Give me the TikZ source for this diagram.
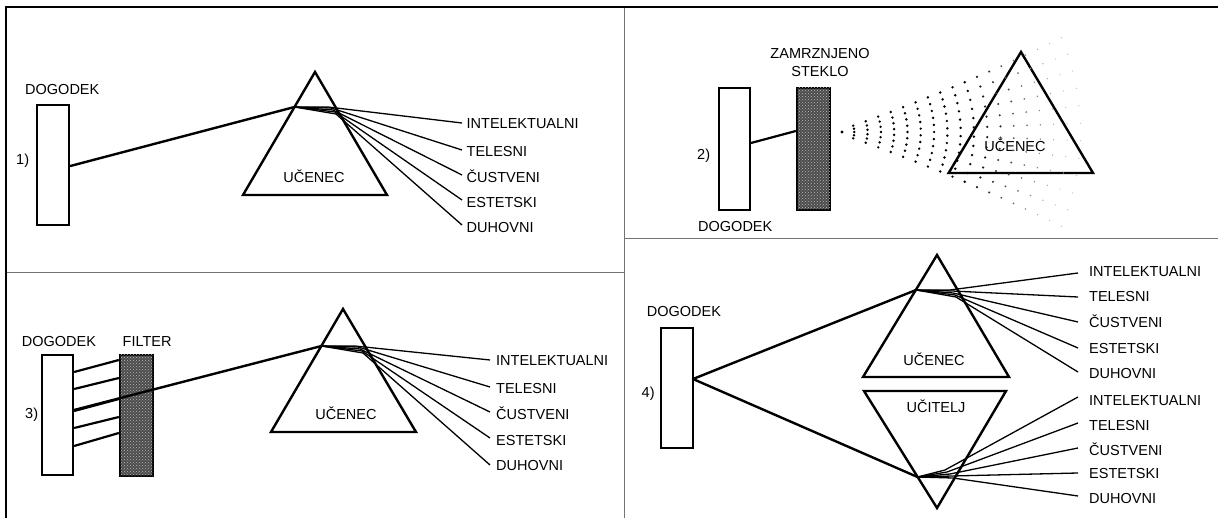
\documentclass[tikz,border=0pt]{standalone}
\usepackage{fontspec}
\setmainfont{Liberation Sans}
\usetikzlibrary{calc,patterns}
\tikzset{
  txt/.style={font=\fontsize{14.5}{17}\selectfont, inner sep=0pt},
  lbl/.style={txt, anchor=base west},
  ctr/.style={txt, anchor=base},
  prism/.style={draw, line width=2.4pt, line join=miter},
  beam/.style={line width=2.4pt, line cap=round},
  ray/.style={line width=1.3pt, line join=round},
  link/.style={line width=2.2pt},
  evbox/.style={draw, line width=2.3pt, fill=white, inner sep=0pt},
  glassbox/.style={draw, line width=2.3pt, fill=black!70, inner sep=0pt,
    postaction={pattern=crosshatch dots, pattern color=black!28}},
  frame/.style={line width=2.5pt},
  divider/.style={draw=black!55, line width=1pt}
}
\begin{document}
\begin{tikzpicture}[x=1pt,y=-1pt]
\useasboundingbox (0,0) rectangle (1218,518);

% ---------- frame and panel dividers ----------
\draw[divider] (624.5,7) -- (624.5,518);
\draw[divider] (6,273) -- (624.5,273);
\draw[divider] (624.5,239) -- (1218,239);
\draw[frame] (6,518) -- (6,7) -- (1218,7);

% ---------- panel 1 ----------
\node[lbl] (a-ev-t) at (25,95) {DOGODEK};
\node[lbl] (a-num) at (16,165) {1)};
\node[evbox, minimum width=32pt, minimum height=120pt] (a-ev) at (53.2,165) {};
\coordinate (a-top) at (315,72);
\coordinate (a-bl) at (243,195);
\coordinate (a-br) at (387,195);
\coordinate (a-in) at (294.5,107);
\draw[prism] (a-top) -- (a-bl) -- (a-br) -- cycle;
\node[ctr] (a-st) at (314,183) {UČENEC};
\draw[beam] ($(a-ev.east)+(0,1)$) -- (a-in);
\foreach \ey/\bx/\by [count=\i] in {123/328/107, 150/331/108, 175/333/110, 200/335/112, 225/336/114}{
  \coordinate (a-b\i) at (\bx,\by);
  \coordinate (a-e\i) at (462,\ey);
  \draw[ray] (a-in) -- (a-b\i) -- (a-e\i);
}
\foreach \t/\yy [count=\i] in {INTELEKTUALNI/129, TELESNI/157, ČUSTVENI/183, ESTETSKI/208, DUHOVNI/233}
  \node[lbl] (a-l\i) at (466.5,\yy) {\t};

% ---------- panel 2 ----------
\node[ctr] (b-gl-t1) at (820,59) {ZAMRZNJENO};
\node[ctr] (b-gl-t2) at (820,77) {STEKLO};
\node[lbl] (b-num) at (697,160) {2)};
\node[lbl] (b-ev-t) at (698,232) {DOGODEK};
\node[evbox, minimum width=31pt, minimum height=122pt] (b-ev) at (734.3,149) {};
\node[glassbox, minimum width=33pt, minimum height=122pt] (b-gl) at (813.5,149) {};
\draw[link] ($(b-ev.east)+(0,-6)$) -- ($(b-gl.west)+(0,-18)$);
\coordinate (b-top) at (1021,52);
\coordinate (b-bl) at (948.6,173);
\coordinate (b-br) at (1093,173);
\draw[prism] (b-top) -- (b-bl) -- (b-br) -- cycle;
\node[ctr] (b-st) at (1015,152) {UČENEC};
% light scattered by the frosted glass: widening arcs of dots that fade out
\coordinate (b-src) at (835,132);
\fill (b-src) ++(7,0) circle[radius=1.6pt];
\foreach \k in {1,...,18}{
  \pgfmathsetmacro\rr{6+13.3*\k}
  \pgfmathsetmacro\th{19+0.2*\k}
  \pgfmathtruncatemacro\nn{min(3+\k,11)}
  \pgfmathsetmacro\dr{\k<11 ? 1.35 : max(1.35-0.1*(\k-10),0.65)}
  \pgfmathtruncatemacro\sh{\k<11 ? 100 : max(100-11*(\k-10),28)}
  \foreach \i in {0,...,\nn}{
    \pgfmathsetmacro\ang{-\th+2*\th*\i/\nn}
    \fill[black!\sh] (b-src) ++(\ang:\rr) circle[radius=\dr pt];
  }
}

% ---------- panel 3 ----------
\node[lbl] (c-ev-t) at (21.7,347) {DOGODEK};
\node[lbl] (c-fl-t) at (122.5,347) {FILTER};
\node[lbl] (c-num) at (25,418) {3)};
\node[evbox, minimum width=31pt, minimum height=120pt] (c-ev) at (57.5,415) {};
\node[glassbox, minimum width=33pt, minimum height=121pt] (c-fl) at (136.5,415.5) {};
\foreach \da/\db in {-43/-55.5, -26/-37.5, -4/-16.5, 13/1.5, 31/17.5}
  \draw[link] ($(c-ev.east)+(0,\da)$) -- ($(c-fl.west)+(0,\db)$);
\coordinate (c-top) at (343,309);
\coordinate (c-bl) at (271,432);
\coordinate (c-br) at (416,432);
\coordinate (c-in) at (321.5,346);
\draw[prism] (c-top) -- (c-bl) -- (c-br) -- cycle;
\node[ctr] (c-st) at (346,420) {UČENEC};
\draw[beam] ($(c-ev.east)+(0,-5)$) -- (c-in);
\foreach \ey/\bx/\by [count=\i] in {360/355/346, 387/358/347, 412/360/349, 438/362/351, 465/363/353}{
  \coordinate (c-b\i) at (\bx,\by);
  \coordinate (c-e\i) at (490,\ey);
  \draw[ray] (c-in) -- (c-b\i) -- (c-e\i);
}
\foreach \t/\yy [count=\i] in {INTELEKTUALNI/366, TELESNI/393, ČUSTVENI/419, ESTETSKI/445, DUHOVNI/470}
  \node[lbl] (c-l\i) at (496,\yy) {\t};

% ---------- panel 4 ----------
\node[lbl] (d-ev-t) at (646.6,317) {DOGODEK};
\node[lbl] (d-num) at (641.5,397) {4)};
\node[evbox, minimum width=32pt, minimum height=120pt] (d-ev) at (677,388) {};
\coordinate (d-src) at (693,379);
% pupil prism (upright)
\coordinate (d-top) at (937,255);
\coordinate (d-bl) at (863,377);
\coordinate (d-br) at (1009,377);
\coordinate (d-in) at (916,290);
\draw[prism] (d-top) -- (d-bl) -- (d-br) -- cycle;
\node[ctr] (d-st) at (934,366) {UČENEC};
% teacher prism (inverted)
\coordinate (d-tl) at (864,391);
\coordinate (d-tr) at (1006,391);
\coordinate (d-bot) at (937,508);
\coordinate (d-in2) at (917.5,477);
\draw[prism] (d-tl) -- (d-tr) -- (d-bot) -- cycle;
\node[ctr] (d-tc) at (936,413) {UČITELJ};
\draw[beam] (d-src) -- (d-in);
\draw[beam] (d-src) -- (d-in2);
\foreach \ey/\bx/\by [count=\i] in {273/950/290, 297/952/291, 322/953/293, 348/955/295, 372/956/297}{
  \coordinate (d-b\i) at (\bx,\by);
  \coordinate (d-e\i) at (1078,\ey);
  \draw[ray] (d-in) -- (d-b\i) -- (d-e\i);
}
\foreach \ey/\bx/\by [count=\i] in {397/945/470, 423/947/472, 448/950/474, 473/952/476, 496/953/478}{
  \coordinate (d-c\i) at (\bx,\by);
  \coordinate (d-f\i) at (1078,\ey);
  \draw[ray] (d-in2) -- (d-c\i) -- (d-f\i);
}
\foreach \t/\yy [count=\i] in {INTELEKTUALNI/277, TELESNI/302, ČUSTVENI/328, ESTETSKI/354, DUHOVNI/378}
  \node[lbl] (d-l\i) at (1089,\yy) {\t};
\foreach \t/\yy [count=\i] in {INTELEKTUALNI/406, TELESNI/430, ČUSTVENI/455, ESTETSKI/478, DUHOVNI/503}
  \node[lbl] (d-m\i) at (1089,\yy) {\t};
\end{tikzpicture}
\end{document}
